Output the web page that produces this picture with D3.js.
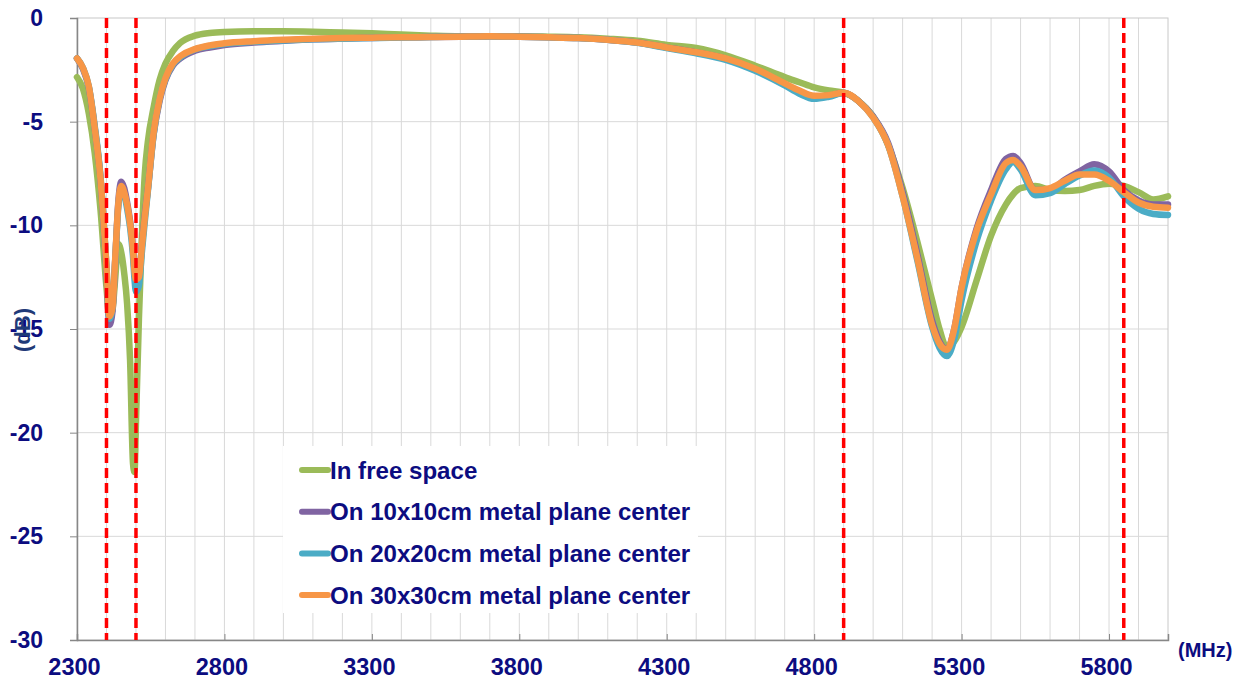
<!DOCTYPE html>
<html><head><meta charset="utf-8">
<script src="https://cdn.jsdelivr.net/npm/d3@7"></script>
<style>body{margin:0;background:#fff}svg{display:block}</style>
</head><body>
<svg id="c" width="1245" height="681"></svg>
<script>
const freq = [2300,2320,2340,2360,2380,2400,2410,2420,2430,2440,2450,2460,2470,2480,2490,2495,2500,2510,2520,2530,2540,2560,2580,2600,2625,2650,2700,2750,2800,2900,3000,3100,3200,3300,3400,3500,3600,3700,3800,3900,4000,4100,4200,4300,4400,4500,4600,4700,4750,4800,4850,4900,4950,5000,5050,5100,5150,5200,5225,5250,5275,5300,5350,5400,5450,5475,5500,5550,5600,5650,5700,5750,5800,5850,5900,5950,6000];

const freeSpace = [-2.85,-3.4,-4.6,-6.5,-9.3,-13.0,-14.4,-14.1,-12.5,-10.9,-11.3,-12.3,-13.8,-16.5,-21.5,-21.9,-19.5,-14.5,-10.5,-7.5,-6.0,-4.3,-3.0,-2.2,-1.6,-1.2,-0.85,-0.72,-0.67,-0.64,-0.64,-0.66,-0.7,-0.74,-0.8,-0.85,-0.88,-0.88,-0.88,-0.9,-0.93,-1.0,-1.1,-1.3,-1.45,-1.8,-2.3,-2.85,-3.1,-3.35,-3.5,-3.6,-4.0,-4.75,-6.1,-8.2,-10.8,-13.6,-15.0,-15.9,-15.6,-14.9,-12.7,-10.5,-9.0,-8.5,-8.2,-8.1,-8.3,-8.35,-8.3,-8.1,-8.0,-8.1,-8.4,-8.75,-8.6];

const plate10 = [-1.95,-2.45,-3.35,-5.3,-7.8,-12.2,-14.8,-14.2,-11.6,-8.9,-7.9,-8.2,-8.9,-9.8,-11.1,-12.2,-12.7,-12.5,-11.0,-9.5,-8.3,-5.6,-4.0,-3.0,-2.3,-1.95,-1.58,-1.42,-1.3,-1.18,-1.1,-1.03,-0.99,-0.96,-0.93,-0.92,-0.9,-0.88,-0.9,-0.93,-0.97,-1.05,-1.18,-1.42,-1.66,-1.97,-2.48,-3.2,-3.55,-3.8,-3.75,-3.6,-4.0,-4.75,-6.0,-8.4,-11.4,-14.6,-15.6,-16.0,-15.0,-13.0,-10.2,-8.3,-6.8,-6.65,-7.0,-8.3,-8.3,-7.8,-7.4,-7.05,-7.4,-8.3,-8.8,-9.0,-9.0];

const plate20 = [-1.95,-2.4,-3.3,-5.2,-7.7,-12.0,-14.5,-14.0,-11.6,-9.1,-8.2,-8.5,-9.2,-10.1,-11.5,-12.6,-13.2,-12.9,-11.3,-9.8,-8.4,-5.6,-3.9,-2.95,-2.25,-1.9,-1.52,-1.36,-1.25,-1.15,-1.08,-1.03,-1.0,-0.97,-0.94,-0.92,-0.9,-0.88,-0.9,-0.93,-0.97,-1.05,-1.2,-1.45,-1.7,-2.02,-2.55,-3.25,-3.65,-3.9,-3.8,-3.62,-4.0,-4.8,-6.1,-8.6,-11.7,-14.9,-15.9,-16.3,-15.5,-13.6,-10.8,-8.8,-7.3,-6.95,-7.3,-8.55,-8.45,-8.0,-7.6,-7.35,-7.7,-8.6,-9.2,-9.45,-9.5];

const plate30 = [-1.95,-2.4,-3.3,-5.3,-7.8,-12.0,-14.4,-14.0,-11.5,-9.0,-8.1,-8.4,-9.0,-9.9,-11.2,-12.2,-12.6,-12.5,-11.0,-9.6,-8.3,-5.5,-3.9,-2.9,-2.2,-1.85,-1.5,-1.32,-1.22,-1.12,-1.05,-1.0,-0.97,-0.95,-0.93,-0.92,-0.9,-0.88,-0.9,-0.93,-0.97,-1.05,-1.18,-1.42,-1.65,-1.95,-2.45,-3.15,-3.5,-3.75,-3.72,-3.6,-4.0,-4.8,-6.1,-8.6,-11.6,-14.8,-15.7,-16.0,-15.0,-13.0,-10.3,-8.5,-7.0,-6.85,-7.15,-8.3,-8.2,-7.85,-7.55,-7.55,-7.85,-8.4,-8.9,-9.1,-9.15];

const seriesNames = ["In free space","On 10x10cm metal plane center","On 20x20cm metal plane center","On 30x30cm metal plane center"];
const seriesColors = ["#9bbb59","#8064a2","#4bacc6","#f79646"];
const seriesValues = [freeSpace, plate10, plate20, plate30];

const xTicks = [2300,2800,3300,3800,4300,4800,5300,5800];
const yTicks = [0,-5,-10,-15,-20,-25,-30];
const markerFreqs = [2400,2500,4900,5850];

const svg = d3.select("#c");
const x = d3.scaleLinear().domain([2300,6000]).range([77,1168]);
const y = d3.scaleLinear().domain([-30,0]).range([640,18]);
const navy = "#0c0c80";
const font = "Liberation Sans, Arial, sans-serif";

// grid
const g = svg.append("g");
g.selectAll(".vg").data(d3.range(2400,6000,100)).join("line")
  .attr("x1",d=>x(d)).attr("x2",d=>x(d)).attr("y1",y(0)).attr("y2",y(-30))
  .attr("stroke","#d9d9d9").attr("stroke-width",1);
g.selectAll(".hg").data([-5,-10,-15,-20,-25]).join("line")
  .attr("x1",x(2300)).attr("x2",x(6000)).attr("y1",d=>y(d)).attr("y2",d=>y(d))
  .attr("stroke","#d9d9d9").attr("stroke-width",1);
svg.append("rect").attr("x",x(2300)).attr("y",y(0)).attr("width",x(6000)-x(2300)).attr("height",y(-30)-y(0))
  .attr("fill","none").attr("stroke","#c8c8c8").attr("stroke-width",1);

// axes
const xAxis = svg.append("g").attr("transform",`translate(0,${y(-30)})`)
  .call(d3.axisBottom(x).tickValues(xTicks).tickSize(-6).tickPadding(18).tickFormat(d=>String(d)));
const yAxis = svg.append("g").attr("transform",`translate(${x(2300)},0)`)
  .call(d3.axisLeft(y).tickValues(yTicks).tickSize(7).tickPadding(26).tickFormat(d=>String(d)));
[xAxis,yAxis].forEach(a=>{
  a.select(".domain").attr("stroke","#878787").attr("stroke-width",1.5);
  a.selectAll(".tick line").attr("stroke","#878787");
  a.selectAll("text").attr("fill",navy).attr("font-family",font).attr("font-weight","bold");
});
xAxis.selectAll("text").attr("font-size",23.5).attr("dx",-3).attr("dy","0.71em");
yAxis.selectAll("text").attr("font-size",23).attr("dx",-1);

// series
const line = d3.line().x((d,i)=>x(freq[i])).y(d=>y(d)).curve(d3.curveMonotoneX);
seriesValues.forEach((vals,k)=>{
  svg.append("path").attr("d",line(vals)).attr("fill","none")
    .attr("stroke",seriesColors[k]).attr("stroke-width",6.5)
    .attr("stroke-linejoin","round").attr("stroke-linecap","round");
});

// markers
svg.selectAll(".mk").data(markerFreqs).join("line")
  .attr("x1",d=>x(d)).attr("x2",d=>x(d)).attr("y1",y(0)).attr("y2",y(-30))
  .attr("stroke","#ff0000").attr("stroke-width",3.5).attr("stroke-dasharray","10,5");

// legend
const lg = svg.append("g");
lg.append("rect").attr("x",283).attr("y",446).attr("width",415).attr("height",167).attr("fill","#fff");
seriesNames.forEach((n,k)=>{
  const cy = 470 + k*41.7;
  lg.append("line").attr("x1",302).attr("x2",328).attr("y1",cy).attr("y2",cy)
    .attr("stroke",seriesColors[k]).attr("stroke-width",6).attr("stroke-linecap","round");
  lg.append("text").attr("x",330).attr("y",cy+8.5).text(n)
    .attr("fill",navy).attr("font-family",font).attr("font-weight","bold").attr("font-size",24.1);
});

// axis titles
svg.append("text").attr("x",1178).attr("y",657).text("(MHz)")
  .attr("fill",navy).attr("font-family",font).attr("font-weight","bold").attr("font-size",20);
svg.append("text").attr("transform","translate(30,330) rotate(-90)").attr("text-anchor","middle").text("(dB)")
  .attr("fill","#1f3a78").attr("font-family",font).attr("font-weight","bold").attr("font-size",22);
</script>
</body></html>
